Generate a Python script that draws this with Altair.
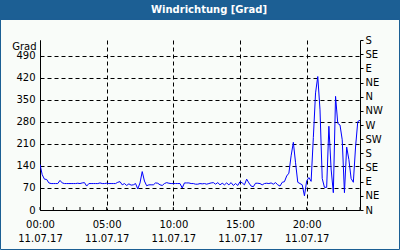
import json
import altair as alt
import pandas as pd

# ---- data (10-minute samples, 11.07.17 00:00 .. 24:00) ----
direction = [
    145, 112, 98, 97, 86, 84,
    84, 84, 84, 94, 86, 84,
    84, 84, 84, 84, 84, 85,
    84, 86, 87, 76, 84, 84,
    84, 84, 84, 86, 84, 84,
    85, 84, 84, 84, 84, 88,
    90, 80, 84, 78, 83, 79,
    80, 84, 67, 86, 122, 92,
    77, 80, 80, 80, 86, 85,
    80, 78, 84, 87, 85, 84,
    84, 84, 84, 84, 70, 86,
    86, 86, 84, 84, 82, 82,
    84, 83, 84, 82, 84, 86,
    87, 82, 87, 80, 85, 80,
    86, 80, 87, 78, 84, 78,
    90, 86, 80, 98, 86, 76,
    74, 85, 85, 84, 80, 84,
    85, 84, 86, 82, 87, 80,
    76, 88, 90, 108, 117, 172,
    215, 150, 88, 84, 80, 45,
    92, 103, 91, 230, 372, 424,
    318, 100, 72, 72, 266, 130,
    55, 361, 275, 270, 223, 55,
    200, 160, 100, 88, 200, 281,
    285,
]
hours = [i / 6 for i in range(len(direction))]

left_ticks = [0, 70, 140, 210, 280, 350, 420, 490]
compass = ["N", "NE", "E", "SE", "S", "SW", "W", "NW", "N", "NE", "E", "SE", "S"]
compass_deg = [0, 45, 90, 135, 180, 225, 270, 315, 360, 405, 450, 495, 540]
x_label_hours = [0, 5, 10, 15, 20]
hour_ticks = list(range(0, 25))
date_label = "11.07.17"
title_text = "Windrichtung [Grad]"

BLUE = "#1c5f94"
FONT = "DejaVu Sans"

df = pd.DataFrame({"hour": hours, "value": direction})
df_compass = pd.DataFrame({"deg": compass_deg, "name": compass})
df_ticks = pd.DataFrame({"hour": hour_ticks})

x_enc = alt.X(
    "hour:Q",
    scale=alt.Scale(domain=[0, 24], nice=False, zero=False),
    axis=alt.Axis(
        values=x_label_hours,
        title=None,
        ticks=False,
        tickSize=0,
        grid=True,
        gridDash=[4, 3],
        gridColor="black",
        domainColor="black",
        labelExpr="[(datum.value < 10 ? '0' : '') + datum.value + ':00', '" + date_label + "']",
        labelLineHeight=14,
        labelBaseline="top",
        labelPadding=9,
        labelFlush=False,
        labelOverlap=False,
    ),
)

line = alt.Chart(df).mark_line(color="#0000ff", strokeWidth=1, clip=True).encode(
    x=x_enc,
    y=alt.Y(
        "value:Q",
        scale=alt.Scale(domain=[0, 540], nice=False),
        axis=alt.Axis(
            values=left_ticks,
            title="Grad",
            titleAngle=0,
            titleAlign="right",
            titleBaseline="middle",
            titleX=-4,
            titleY=6,
            titleFont=FONT,
            titleFontSize=10,
            titleFontWeight="normal",
            titleColor="black",
            ticks=False,
            tickSize=0,
            grid=True,
            gridDash=[4, 3],
            gridColor="black",
            domainColor="black",
            labelPadding=5,
            labelOverlap=False,
        ),
    ),
)

compass_expr = "[" + ",".join(json.dumps(n) for n in compass) + "][round(datum.value/45)]"
right_axis = alt.Chart(df_compass).mark_point(opacity=0).encode(
    y=alt.Y(
        "deg:Q",
        scale=alt.Scale(domain=[0, 540], nice=False),
        axis=alt.Axis(
            orient="right",
            values=compass_deg,
            labelExpr=compass_expr,
            title=None,
            grid=False,
            ticks=True,
            tickSize=3,
            tickColor="black",
            domainColor="black",
            labelPadding=2,
            labelOverlap=False,
            labelFlush=False,
        ),
    ),
)

inner_ticks = alt.Chart(df_ticks).mark_rule(color="black", strokeWidth=1).encode(
    x=x_enc,
    y=alt.value(167),
    y2=alt.value(170),
)

one = alt.Data(values=[{"a": 1}])
title_bar = alt.Chart(one).mark_rect(color=BLUE).encode(
    x=alt.value(-40), x2=alt.value(360), y=alt.value(-40), y2=alt.value(-20)
)
frame = alt.Chart(one).mark_rect(fill="transparent", stroke=BLUE, strokeWidth=1).encode(
    x=alt.value(-39.5), x2=alt.value(359.5), y=alt.value(-21), y2=alt.value(209.5)
)
title = alt.Chart(one).mark_text(
    text=title_text, color="white", font=FONT, fontSize=10, fontWeight="bold",
    align="center", baseline="middle",
).encode(x=alt.value(169), y=alt.value(-30))

chart = (
    alt.layer(title_bar, frame, title, line, right_axis, inner_ticks)
    .resolve_scale(y="independent")
    .properties(
        width=320,
        height=170,
        padding={"left": 40, "top": 40, "right": 40, "bottom": 40},
        autosize=alt.AutoSizeParams(type="none"),
        background="#f9fcf9",
    )
    .configure_view(stroke="transparent")
    .configure_axis(
        labelFont=FONT,
        labelFontSize=10,
        labelColor="black",
        titleFont=FONT,
    )
)

chart.save("out.html", embed_options={"renderer": "svg", "actions": False})
